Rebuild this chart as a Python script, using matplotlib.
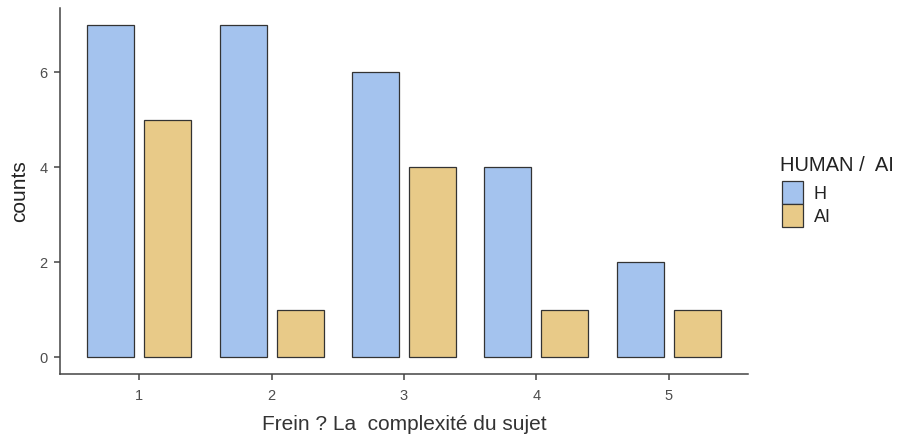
import matplotlib
matplotlib.use("Agg")
import matplotlib.pyplot as plt
import numpy as np
from matplotlib.patches import Patch

categories = ["1", "2", "3", "4", "5"]
h_counts = [7, 7, 6, 4, 2]
ai_counts = [5, 1, 4, 1, 1]
series_names = ["H", "AI"]
legend_title = "HUMAN /  AI"
colors = ["#A4C3EE", "#E8CA88"]

plt.rcParams['font.family'] = ['Liberation Sans', 'DejaVu Sans']

fig = plt.figure(figsize=(9.02, 4.41), dpi=100)
ax = fig.add_axes([60/902, (441-374)/441, (748-60)/902, (374-8)/441])

x = np.arange(1, len(categories) + 1)
w = 0.355
off = 0.215
ax.bar(x - off, h_counts, width=w, color=colors[0], edgecolor="#333333", linewidth=0.9)
ax.bar(x + off, ai_counts, width=w, color=colors[1], edgecolor="#333333", linewidth=0.9)

ax.set_xlim(0.4, 5.6)
ax.set_ylim(-0.35, 7.35)
ax.set_xticks(x)
ax.set_xticklabels(categories)
ax.set_yticks([0, 2, 4, 6])
for s in ["top", "right"]:
    ax.spines[s].set_visible(False)
for s in ["left", "bottom"]:
    ax.spines[s].set_color("#444444")
    ax.spines[s].set_linewidth(1.1)
ax.tick_params(axis="both", colors="#444444", labelcolor="#4D4D4D", labelsize=10.5, length=4, width=1.1)
ax.tick_params(axis="x", pad=6.5)
ax.tick_params(axis="y", pad=5)
ax.set_xlabel("Frein ? La  complexité du sujet", fontsize=15, color="#333333", labelpad=9)
ax.set_ylabel("counts", fontsize=15, color="#222222", labelpad=7)

fig.text(780/902, 1 - 171/441, legend_title, fontsize=14.5, color="#222222", va="baseline", ha="left")
handles = [Patch(facecolor=colors[i], edgecolor="#333333", linewidth=0.9, label=series_names[i]) for i in range(2)]
leg = fig.legend(handles=handles, loc="upper left",
                 bbox_to_anchor=(782/902, 1 - 181/441), frameon=False, fontsize=13,
                 handlelength=1.15, handleheight=1.6, handletextpad=0.6,
                 labelspacing=0.0, borderpad=0.0, borderaxespad=0)
for t in leg.get_texts():
    t.set_color("#222222")

fig.savefig("out.png", dpi=100)
